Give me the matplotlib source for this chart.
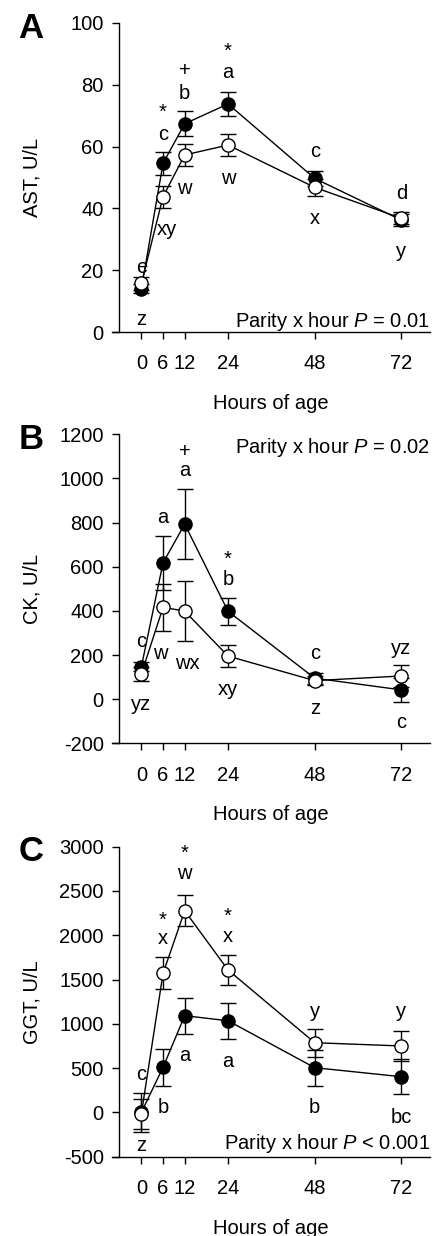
import matplotlib
matplotlib.use("Agg")
import matplotlib.pyplot as plt
import numpy as np

plt.rcParams['font.family'] = ['Liberation Sans', 'DejaVu Sans']
plt.rcParams['mathtext.fontset'] = 'custom'
plt.rcParams['mathtext.rm'] = 'Liberation Sans'
plt.rcParams['mathtext.it'] = 'Liberation Sans:italic'

hours = [0, 6, 12, 24, 48, 72]
hour_ticks = [0, 6, 12, 24, 48, 72]

# Panel A: AST
ast_filled = [14, 54.6, 67.4, 73.8, 49.7, 36.2]
ast_filled_err = [1.5, 3.8, 4.0, 4.0, 2.5, 2.0]
ast_open = [15.7, 43.8, 57.3, 60.5, 46.8, 36.8]
ast_open_err = [2.0, 3.6, 3.6, 3.5, 2.8, 2.0]
ast_labels = [(0, 21, 'e'), (0, 4, 'z'),
              (6, 71, '*'), (6, 63.8, 'c'), (7, 33.2, 'xy'),
              (12, 84.6, '+'), (12, 77.3, 'b'), (12, 46.5, 'w'),
              (24, 90.8, '*'), (24, 84, 'a'), (24, 49.7, 'w'),
              (48, 58.4, 'c'), (48, 36.8, 'x'),
              (72, 44.9, 'd'), (72, 26, 'y')]

# Panel B: CK
ck_filled = [147, 618, 793, 398, 95, 42]
ck_filled_err = [20, 122, 158, 60, 25, 55]
ck_open = [114, 416, 399, 195, 84, 105]
ck_open_err = [32, 108, 135, 49, 20, 50]
ck_labels = [(0, 260, 'c'), (0, -26, 'yz'),
             (6, 824, 'a'), (5.3, 205, 'w'),
             (12, 1121, '+'), (12, 1034, 'a'), (12.7, 163, 'wx'),
             (24, 634, '*'), (24, 543, 'b'), (24, 45, 'xy'),
             (48, 205, 'c'), (48, -41, 'z'),
             (72, 230, 'yz'), (72, -106, 'c')]

# Panel C: GGT
ggt_filled = [0, 509, 1092, 1035, 505, 403]
ggt_filled_err = [217, 207, 205, 205, 203, 200]
ggt_open = [-15, 1570, 2277, 1608, 787, 750]
ggt_open_err = [170, 180, 175, 170, 160, 170]
ggt_labels = [(0, 430, 'c'), (0, -368, 'z'),
              (6, 2172, '*'), (6, 1958, 'x'), (6, 57, 'b'),
              (12, 2925, '*'), (12, 2699, 'w'), (12, 640, 'a'),
              (24, 2210, '*'), (24, 1984, 'x'), (24, 580, 'a'),
              (48, 1137, 'y'), (48, 57, 'b'),
              (72, 1137, 'y'), (72, -60, 'bc')]

panels = [
    dict(letter='A', ylabel='AST, U/L', ylim=(0, 100), yticks=np.arange(0, 101, 20),
         filled=ast_filled, ferr=ast_filled_err, open=ast_open, oerr=ast_open_err,
         labels=ast_labels, ptext='Parity x hour $P$ = 0.01', py=3.5,
         rect=[0.258, 1 - 332 / 1236, 0.728, 309 / 1236], top=23),
    dict(letter='B', ylabel='CK, U/L', ylim=(-200, 1200), yticks=np.arange(-200, 1201, 200),
         filled=ck_filled, ferr=ck_filled_err, open=ck_open, oerr=ck_open_err,
         labels=ck_labels, ptext='Parity x hour $P$ = 0.02', py=1140,
         rect=[0.258, 1 - 743.3 / 1236, 0.728, 309 / 1236], top=434.3),
    dict(letter='C', ylabel='GGT, U/L', ylim=(-500, 3000), yticks=np.arange(-500, 3001, 500),
         filled=ggt_filled, ferr=ggt_filled_err, open=ggt_open, oerr=ggt_open_err,
         labels=ggt_labels, ptext='Parity x hour $P$ < 0.001', py=-349,
         rect=[0.258, 1 - 1156.7 / 1236, 0.728, 310 / 1236], top=846.7),
]

fig = plt.figure(figsize=(4.36, 12.36), dpi=100)
FS = 14.5

for p in panels:
    ax = fig.add_axes(p['rect'])
    ax.set_xlim(-8.0, 79.9)
    ax.set_ylim(*p['ylim'])
    ax.spines['top'].set_visible(False)
    ax.spines['right'].set_visible(False)
    ax.spines['left'].set_position(('data', -6.2))
    for s in ('left', 'bottom'):
        ax.spines[s].set_linewidth(1.0)
    ax.set_xticks(hour_ticks)
    ax.set_xticklabels([str(h) for h in hour_ticks])
    ax.set_yticks(p['yticks'])
    ax.set_yticklabels([str(int(v)) for v in p['yticks']])
    ax.tick_params(axis='both', direction='out', length=5, width=1.0, labelsize=FS)
    ax.tick_params(axis='y', pad=6)
    ax.tick_params(axis='x', pad=11)

    common = dict(color='black', ecolor='black', elinewidth=1.0, capsize=6,
                  capthick=1.0, lw=1.0, marker='o', markersize=9.5,
                  markeredgewidth=1.0, markeredgecolor='black', clip_on=False)
    ax.errorbar(hours, p['filled'], yerr=p['ferr'], markerfacecolor='black',
                zorder=3, **common)
    ax.errorbar(hours, p['open'], yerr=p['oerr'], markerfacecolor='white',
                zorder=4, **common)

    for hx, hy, t in p['labels']:
        ax.text(hx, hy, t, ha='center', va='center', fontsize=FS)

    ax.text(1.0, p['py'], p['ptext'], transform=ax.get_yaxis_transform(),
            ha='right', va='center', fontsize=FS)

    ax.set_xlabel('Hours of age', fontsize=FS, va='center')
    ax.xaxis.set_label_coords(0.5, -(403.5 - 332) / 309)
    ax.set_ylabel(p['ylabel'], fontsize=FS, va='center')
    ax.yaxis.set_label_coords(-0.255, 0.5)

    fig.text(30.7 / 436, 1 - (p['top'] + 5) / 1236, p['letter'], fontsize=25,
             fontweight='bold', ha='center', va='center')

fig.savefig('out.png', dpi=100)
